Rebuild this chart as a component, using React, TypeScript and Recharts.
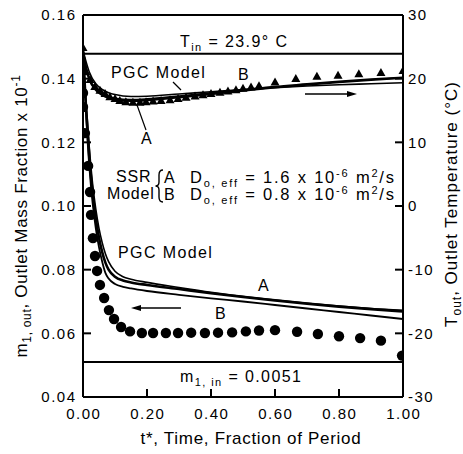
import React from "react";
import { ComposedChart, Line, XAxis, YAxis, ReferenceLine } from "recharts";

const FONT = "'Liberation Sans', Arial, Helvetica, sans-serif";

// axes
const xTicks = [0, 0.2, 0.4, 0.6, 0.8, 1.0];
const leftTicks = [0.04, 0.06, 0.08, 0.1, 0.12, 0.14, 0.16];
const rightTicks = [-30, -20, -10, 0, 10, 20, 30];

// inlet conditions
const T_IN = 23.9; // °C (right axis)
const M1_IN = 0.051; // 0.0051 on the x10^-1 axis scale

// measured outlet mass fraction (circles, left axis)
const circleT = [0, 0, 0.006, 0.016, 0.022, 0.025, 0.031, 0.0375, 0.044, 0.053, 0.066, 0.081, 0.097, 0.119, 0.147, 0.184, 0.219, 0.259, 0.297, 0.338, 0.381, 0.422, 0.466, 0.509, 0.55, 0.6, 0.669, 0.734, 0.8, 0.866, 0.931, 0.997];
const circleM = [0.1355, 0.1311, 0.1229, 0.1126, 0.1044, 0.0972, 0.0899, 0.0843, 0.0796, 0.0752, 0.0711, 0.0673, 0.0645, 0.062, 0.0606, 0.0601, 0.0601, 0.0601, 0.0601, 0.0602, 0.0601, 0.0602, 0.0603, 0.0606, 0.0609, 0.061, 0.0605, 0.0598, 0.0591, 0.0585, 0.0577, 0.053];

// measured outlet temperature (triangles, right axis)
const triT = [0, 0.009, 0.022, 0.037, 0.053, 0.069, 0.084, 0.1, 0.115, 0.134, 0.156, 0.178, 0.197, 0.219, 0.244, 0.272, 0.297, 0.322, 0.35, 0.375, 0.4, 0.428, 0.453, 0.478, 0.5, 0.525, 0.55, 0.6, 0.665, 0.731, 0.797, 0.862, 0.931, 1.0];
const triTemp = [24.8, 21.0, 19.8, 18.7, 18.1, 17.6, 17.1, 16.8, 16.5, 16.3, 16.2, 16.2, 16.3, 16.4, 16.5, 16.6, 16.8, 17.0, 17.2, 17.4, 17.6, 17.8, 18.0, 18.2, 18.4, 18.6, 18.8, 19.4, 19.95, 20.3, 20.45, 20.7, 20.9, 21.2];

// model curves, mass fraction (left axis)
const mModelT = [0, 0.005, 0.01, 0.02, 0.03, 0.04, 0.05, 0.06, 0.07, 0.08, 0.1, 0.125, 0.15, 0.2, 0.3, 0.4, 0.5, 0.6, 0.7, 0.8, 0.9, 1.0];
const mPGC = [0.148, 0.14, 0.132, 0.118, 0.107, 0.099, 0.093, 0.0885, 0.085, 0.0825, 0.0795, 0.0778, 0.077, 0.076, 0.0744, 0.0729, 0.0716, 0.0705, 0.0695, 0.0686, 0.0678, 0.0672];
const mA = [0.148, 0.139, 0.13, 0.115, 0.104, 0.096, 0.09, 0.0855, 0.0822, 0.08, 0.0778, 0.0766, 0.076, 0.0752, 0.0739, 0.0726, 0.0714, 0.0703, 0.0693, 0.0684, 0.0676, 0.0669];
const mB = [0.148, 0.138, 0.128, 0.112, 0.101, 0.093, 0.087, 0.0825, 0.079, 0.0772, 0.0755, 0.0746, 0.0741, 0.0733, 0.0721, 0.071, 0.07, 0.0689, 0.0678, 0.0667, 0.0656, 0.0645];

// model curves, temperature (right axis)
const tModelT = [0, 0.01, 0.02, 0.04, 0.06, 0.08, 0.1, 0.15, 0.2, 0.3, 0.4, 0.5, 0.6, 0.7, 0.8, 0.9, 1.0];
const tPGC = [24.5, 22.6, 21.0, 19.2, 18.3, 17.8, 17.5, 17.2, 17.25, 17.6, 17.95, 18.3, 18.6, 18.85, 19.05, 19.2, 19.35];
const tA = [24.5, 21.5, 19.8, 18.2, 17.4, 16.95, 16.7, 16.5, 16.6, 17.05, 17.55, 18.1, 18.6, 19.05, 19.45, 19.8, 20.1];
const tB = [24.5, 21.7, 20.0, 18.4, 17.6, 17.15, 16.9, 16.7, 16.8, 17.25, 17.75, 18.25, 18.75, 19.15, 19.55, 19.9, 20.2];

const zip = (ts: number[], vs: number[]) => ts.map((t, i) => ({ t, v: vs[i] }));

const circleData = zip(circleT, circleM);
const triData = zip(triT, triTemp);
const mPGCData = zip(mModelT, mPGC);
const mAData = zip(mModelT, mA);
const mBData = zip(mModelT, mB);
const tPGCData = zip(tModelT, tPGC);
const tAData = zip(tModelT, tA);
const tBData = zip(tModelT, tB);

const TICK_FONT = { fontFamily: FONT, fontSize: 15, letterSpacing: 1.5, fill: "#000" };

const LeftTick = (p: any) => {
  const { x, y, payload } = p;
  const ax = x + 6;
  return (
    <g>
      <line x1={ax} x2={ax + 8} y1={y} y2={y} stroke="#000" strokeWidth={2} />
      <text x={x - 0.5} y={y} dy="0.36em" textAnchor="end" {...TICK_FONT}>
        {Number(payload.value).toFixed(2)}
      </text>
    </g>
  );
};

const RightTick = (p: any) => {
  const { x, y, payload } = p;
  const ax = x - 6;
  return (
    <g>
      <line x1={ax - 8} x2={ax} y1={y} y2={y} stroke="#000" strokeWidth={2} />
      <text x={x - 1} y={y} dy="0.36em" textAnchor="start" {...TICK_FONT}>
        {String(payload.value)}
      </text>
    </g>
  );
};

const BottomTick = (p: any) => {
  const { x, y, payload } = p;
  const ay = y - 11;
  return (
    <g>
      <line x1={x} x2={x} y1={ay - 8} y2={ay} stroke="#000" strokeWidth={2} />
      <text x={x + 0.75} y={y} dy="0.72em" textAnchor="middle" {...TICK_FONT}>
        {Number(payload.value).toFixed(2)}
      </text>
    </g>
  );
};

const CircleDot = (p: any) => {
  const { cx, cy, index } = p;
  if (cx == null || cy == null) return <g key={`c${index}`} />;
  return <circle key={`c${index}`} cx={cx} cy={cy} r={5.2} fill="#000" />;
};

const TriDot = (p: any) => {
  const { cx, cy, index } = p;
  if (cx == null || cy == null) return <g key={`t${index}`} />;
  return (
    <polygon
      key={`t${index}`}
      points={`${cx},${cy - 5} ${cx - 4.5},${cy + 3} ${cx + 4.5},${cy + 3}`}
      fill="#000"
    />
  );
};

const ANN = { fontFamily: FONT, fontSize: 16, letterSpacing: 1.4, fill: "#000" };
const DLINE = { fontFamily: FONT, fontSize: 16.5, letterSpacing: 1.8, fill: "#000" };

export default function App() {
  return (
    <div style={{ position: "absolute", left: 0, top: 0, width: 463, height: 454, background: "#fff" }}>
      <ComposedChart width={463} height={454} margin={{ top: 15, right: 0, bottom: 0, left: 0 }}>
        <XAxis
          dataKey="t"
          type="number"
          domain={[0, 1]}
          ticks={xTicks}
          interval={0}
          height={57}
          tickLine={false}
          tickSize={6}
          tickMargin={5}
          axisLine={{ stroke: "#000", strokeWidth: 2 }}
          tick={<BottomTick />}
          allowDataOverflow
        />
        <YAxis
          yAxisId="left"
          orientation="left"
          type="number"
          domain={[0.04, 0.16]}
          ticks={leftTicks}
          interval={0}
          width={83}
          tickLine={false}
          tickSize={6}
          tickMargin={0}
          axisLine={{ stroke: "#000", strokeWidth: 2 }}
          tick={<LeftTick />}
          allowDataOverflow
        />
        <YAxis
          yAxisId="right"
          orientation="right"
          type="number"
          domain={[-30, 30]}
          ticks={rightTicks}
          interval={0}
          width={60}
          tickLine={false}
          tickSize={6}
          tickMargin={0}
          axisLine={{ stroke: "#000", strokeWidth: 2 }}
          tick={<RightTick />}
          allowDataOverflow
        />
        <ReferenceLine yAxisId="left" y={0.16} stroke="#000" strokeWidth={2} />
        <ReferenceLine yAxisId="right" y={T_IN} stroke="#000" strokeWidth={2} />
        <ReferenceLine yAxisId="left" y={M1_IN} stroke="#000" strokeWidth={2} />

        <Line yAxisId="left" data={mPGCData} dataKey="v" stroke="#000" strokeWidth={1.6} dot={false} activeDot={false} isAnimationActive={false} type="monotone" />
        <Line yAxisId="left" data={mAData} dataKey="v" stroke="#000" strokeWidth={2.6} dot={false} activeDot={false} isAnimationActive={false} type="monotone" />
        <Line yAxisId="left" data={mBData} dataKey="v" stroke="#000" strokeWidth={1.8} dot={false} activeDot={false} isAnimationActive={false} type="monotone" />

        <Line yAxisId="right" data={tPGCData} dataKey="v" stroke="#000" strokeWidth={1.6} dot={false} activeDot={false} isAnimationActive={false} type="monotone" />
        <Line yAxisId="right" data={tAData} dataKey="v" stroke="#000" strokeWidth={2} dot={false} activeDot={false} isAnimationActive={false} type="monotone" />
        <Line yAxisId="right" data={tBData} dataKey="v" stroke="#000" strokeWidth={2} dot={false} activeDot={false} isAnimationActive={false} type="monotone" />

        <Line yAxisId="left" data={circleData} dataKey="v" stroke="none" dot={<CircleDot />} activeDot={false} isAnimationActive={false} />
        <Line yAxisId="right" data={triData} dataKey="v" stroke="none" dot={<TriDot />} activeDot={false} isAnimationActive={false} />
      </ComposedChart>

      <svg width={463} height={454} style={{ position: "absolute", left: 0, top: 0, pointerEvents: "none" }}>
        {/* T_in box text */}
        <text x={180} y={47} {...ANN}>
          T<tspan dy={4} fontSize={11}>in</tspan>
          <tspan dy={-4}> = 23.9° C</tspan>
        </text>

        {/* upper labels */}
        <text x={111} y={78} {...ANN}>PGC Model</text>
        <line x1={173} y1={82} x2={181} y2={90} stroke="#000" strokeWidth={1.2} />
        <text x={238} y={80} {...ANN}>B</text>
        <text x={141} y={144} {...ANN}>A</text>
        <line x1={146} y1={130} x2={137} y2={105} stroke="#000" strokeWidth={1.2} />

        {/* arrow right (temperature) */}
        <line x1={305} y1={94} x2={350} y2={94} stroke="#000" strokeWidth={1.3} />
        <polygon points="357,94 347,91 347,97" fill="#000" />

        {/* SSR model legend */}
        <text x={116} y={182} {...ANN} letterSpacing={0.8}>SSR</text>
        <text x={107} y={199} {...ANN} letterSpacing={0.8}>Model</text>
        <path d="M163,170 Q159,170 159,175 L159,182 Q159,186 155.5,186 Q159,186 159,190 L159,197 Q159,202 163,202" fill="none" stroke="#000" strokeWidth={1.4} />
        <text x={164} y={183} {...ANN}>A</text>
        <text x={164} y={200} {...ANN}>B</text>
        <text x={190} y={183} {...DLINE}>
          D<tspan dy={4} fontSize={11}>o, eff</tspan>
          <tspan dy={-4}> = 1.6 x 10</tspan>
          <tspan dy={-6} fontSize={11}>-6</tspan>
          <tspan dy={6}> m</tspan>
          <tspan dy={-6} fontSize={11}>2</tspan>
          <tspan dy={6}>/s</tspan>
        </text>
        <text x={190} y={200} {...DLINE}>
          D<tspan dy={4} fontSize={11}>o, eff</tspan>
          <tspan dy={-4}> = 0.8 x 10</tspan>
          <tspan dy={-6} fontSize={11}>-6</tspan>
          <tspan dy={6}> m</tspan>
          <tspan dy={-6} fontSize={11}>2</tspan>
          <tspan dy={6}>/s</tspan>
        </text>

        {/* lower labels */}
        <text x={118} y={258} {...ANN}>PGC Model</text>
        <text x={258} y={291} {...ANN}>A</text>
        <text x={215} y={319} {...ANN}>B</text>

        {/* arrow left (mass fraction) */}
        <line x1={138} y1={308} x2={181} y2={308} stroke="#000" strokeWidth={1.3} />
        <polygon points="131,308 141,305 141,311" fill="#000" />

        {/* m1,in box text */}
        <text x={180} y={382} {...ANN}>
          m<tspan dy={4} fontSize={11}>1, in</tspan>
          <tspan dy={-4}> = 0.0051</tspan>
        </text>

        {/* axis titles */}
        <text x={251} y={444} textAnchor="middle" fontFamily={FONT} fontSize={17} letterSpacing={0.7} fill="#000">
          t*, Time, Fraction of Period
        </text>
        <text transform="translate(27,216) rotate(-90)" textAnchor="middle" fontFamily={FONT} fontSize={17} letterSpacing={0.7} fill="#000">
          m<tspan dy={4} fontSize={12}>1, out</tspan>
          <tspan dy={-4}>, Outlet Mass Fraction x 10</tspan>
          <tspan dy={-7} fontSize={12}>-1</tspan>
        </text>
        <text transform="translate(457,204) rotate(-90)" textAnchor="middle" fontFamily={FONT} fontSize={17} letterSpacing={1} fill="#000">
          T<tspan dy={4} fontSize={12}>out</tspan>
          <tspan dy={-4}>, Outlet Temperature (°C)</tspan>
        </text>
      </svg>
    </div>
  );
}
